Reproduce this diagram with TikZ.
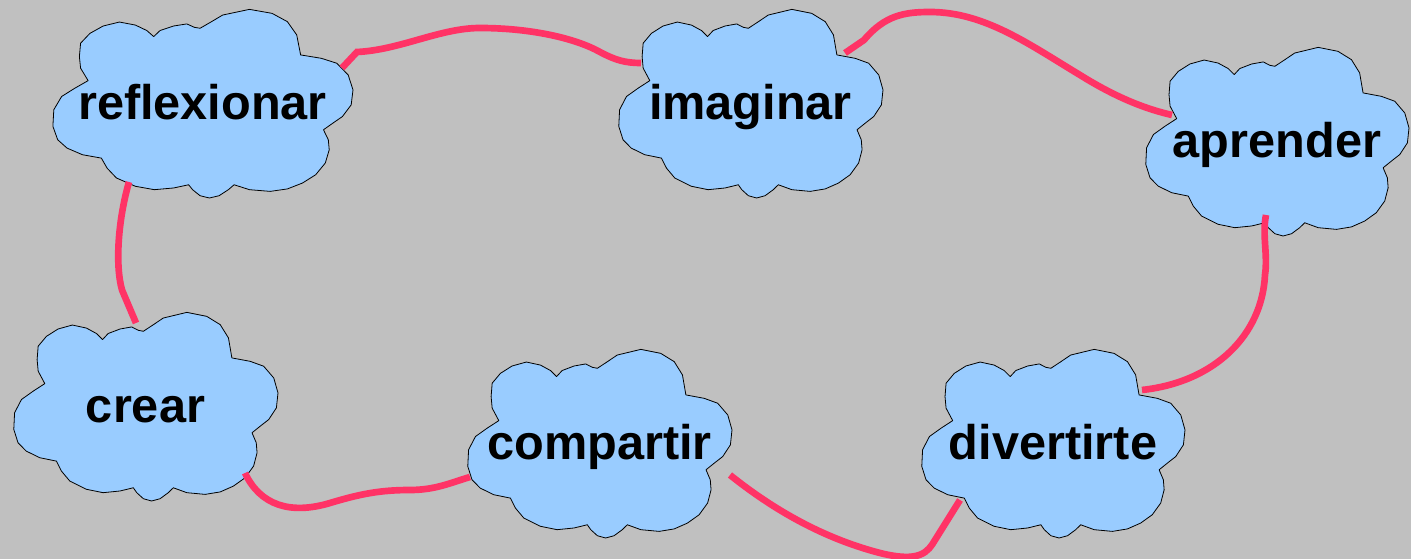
\documentclass[tikz,border=0pt]{standalone}
\usepackage{fontspec}
\setmainfont{Liberation Sans}
\usepackage{tikz}

\definecolor{fondo}{RGB}{192,192,192}
\definecolor{celeste}{RGB}{153,204,255}
\definecolor{rosa}{RGB}{255,51,102}

\tikzset{
  nubeborde/.style={draw=black, line width=0.6pt, fill=celeste, line join=round},
  rotulo/.style={anchor=base, inner sep=0.75pt, font=\fontsize{36.5}{40}\selectfont\bfseries},
  enlace/.style={draw=rosa, line width=5pt},
}

% cloud outline (unit box, height 189) and its label
\newcommand{\nube}[5]{%
  \begin{scope}[shift={(#2,#3)}, xscale=#4, yscale=189]
    \draw[nubeborde] (0.120,0.379) -- (0.095,0.313) -- (0.091,0.252) -- (0.095,0.181)
      -- (0.126,0.129) -- (0.170,0.090) -- (0.224,0.069) -- (0.277,0.085) -- (0.315,0.114)
      -- (0.338,0.146) -- (0.359,0.114) -- (0.404,0.090) -- (0.448,0.079) -- (0.473,0.097)
      -- (0.492,0.102) -- (0.530,0.067) -- (0.567,0.032) -- (0.656,0.002) -- (0.731,0.023)
      -- (0.782,0.067) -- (0.813,0.137) -- (0.826,0.243) -- (0.895,0.261) -- (0.946,0.287)
      -- (0.984,0.349) -- (1.000,0.428) -- (0.994,0.507) -- (0.965,0.569) -- (0.933,0.604)
      -- (0.902,0.639) -- (0.918,0.692) -- (0.921,0.745) -- (0.908,0.815) -- (0.876,0.877)
      -- (0.832,0.921) -- (0.782,0.952) -- (0.725,0.965) -- (0.656,0.956) -- (0.605,0.930)
      -- (0.586,0.956) -- (0.555,0.988) -- (0.523,1.000) -- (0.492,0.988) -- (0.467,0.956)
      -- (0.454,0.930) -- (0.404,0.947) -- (0.340,0.956) -- (0.277,0.938) -- (0.214,0.894)
      -- (0.183,0.842) -- (0.164,0.789) -- (0.101,0.771) -- (0.050,0.736) -- (0.019,0.692)
      -- (0.003,0.621) -- (0.006,0.533) -- (0.032,0.463) -- (0.076,0.419) -- cycle;
  \end{scope}
  \node[rotulo] (#1) at ({#2+#4/2},{#3+111}) {#5};
}

\begin{document}
\begin{tikzpicture}[x=0.75pt,y=0.75pt,yscale=-1,xscale=1]
  % background
  \fill[fondo] (0,0) rectangle (1411,559);
  \useasboundingbox (0,0) rectangle (1411,559);

  % Clouds
  \nube{refl}{52}{9}{301}{reflexionar}
  \nube{imag}{618}{9}{265}{imaginar}
  \nube{apre}{1145}{47}{264}{aprender}
  \nube{crea}{13}{312}{265}{crear}
  \nube{comp}{467}{349}{265}{compartir}
  \nube{dive}{921}{349}{264}{divertirte}

  % connector ends on the cloud rims
  \coordinate (refl-e) at (342,68);
  \coordinate (refl-s) at (129,182);
  \coordinate (imag-w) at (641,63);
  \coordinate (imag-e) at (845,53);
  \coordinate (apre-w) at (1172,115);
  \coordinate (apre-s) at (1266,215);
  \coordinate (crea-n) at (136,323);
  \coordinate (crea-e) at (245,473);
  \coordinate (comp-w) at (470,477);
  \coordinate (comp-e) at (730,475);
  \coordinate (dive-w) at (960,500);
  \coordinate (dive-e) at (1142,390);

  % Connectors
  \draw[enlace] (refl-e) -- (357,52) .. controls (400,50) and (440,28) .. (480,28)
    .. controls (530,28) and (575,38) .. (600,52) .. controls (615,60) and (625,63) .. (imag-w);
  \draw[enlace] (imag-e) -- (864,40) .. controls (885,15) and (905,12) .. (930,12)
    .. controls (985,12) and (1030,45) .. (1080,75) .. controls (1120,100) and (1150,110) .. (apre-w);
  \draw[enlace] (apre-s) .. controls (1262,235) and (1268,255) .. (1265,275)
    .. controls (1262,335) and (1215,382) .. (dive-e);
  \draw[enlace] (refl-s) .. controls (118,220) and (115,265) .. (122,290) -- (crea-n);
  \draw[enlace] (crea-e) .. controls (260,505) and (290,515) .. (330,503)
    .. controls (360,494) and (380,490) .. (410,490) .. controls (435,490) and (450,483) .. (comp-w);
  \draw[enlace] (comp-e) .. controls (780,515) and (830,540) .. (880,553)
    .. controls (920,563) and (928,552) .. (935,540) -- (dive-w);
\end{tikzpicture}
\end{document}
